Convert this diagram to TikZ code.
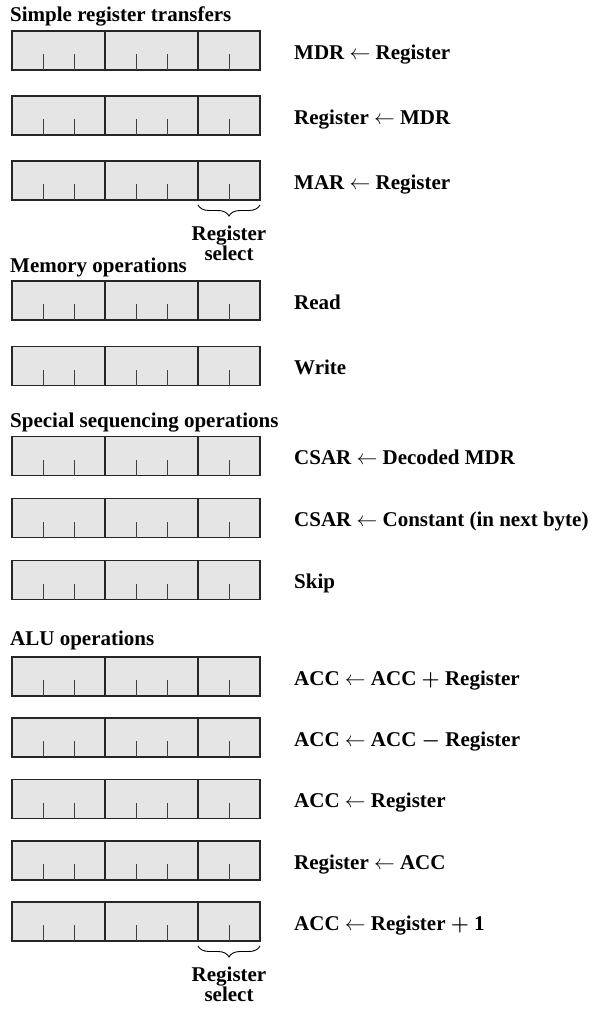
\documentclass[tikz,border=0pt]{standalone}
\usepackage{fontspec}
\setmainfont{Liberation Serif}
\usetikzlibrary{positioning,calc,decorations.pathreplacing}

\newcommand{\opplus}{{\boldmath$+$}}
\newcommand{\opminus}{{\boldmath$-$}}

\begin{document}
\begin{tikzpicture}[
  x=1pt, y=1pt,
  font=\fontsize{21}{20}\selectfont\bfseries,
  field/.style={draw=black!85, fill=black!10, line width=1.3pt, minimum height=39pt, inner sep=0pt, outer sep=0pt, anchor=west},
  wide/.style={field, minimum width=93pt},
  narrow/.style={field, minimum width=62pt},
  tick/.style={black!75, line width=1pt},
  op/.style={anchor=base west, inner sep=0pt},
  heading/.style={anchor=base west, inner sep=0pt},
  regsel/.style={anchor=north, align=center, inner sep=0pt},
  brace/.style={decorate, decoration={brace, mirror, amplitude=11pt}, line width=0.9pt},
]
  \useasboundingbox (0,0) rectangle (595,-1009);

  % group headings
  \node[heading] (simple) at (10,-21) {Simple register transfers};
  \node[heading] (memory) at (10,-272) {Memory operations};
  \node[heading] (special) at (10,-427) {Special sequencing operations};
  \node[heading] (alu) at (10,-645) {ALU operations};

  % one microinstruction per row: three fields and its operation
  \foreach \n/\y/\t in {
      1/50.5/{MDR $\leftarrow$ Register},
      2/115.5/{Register $\leftarrow$ MDR},
      3/180.5/{MAR $\leftarrow$ Register},
      4/300.5/{Read},
      5/366/{Write},
      6/456/{CSAR $\leftarrow$ Decoded MDR},
      7/518/{CSAR $\leftarrow$ Constant (in next byte)},
      8/580/{Skip},
      9/676.5/{ACC $\leftarrow$ ACC \opplus{} Register},
      10/737.5/{ACC $\leftarrow$ ACC \opminus{} Register},
      11/799/{ACC $\leftarrow$ Register},
      12/860.5/{Register $\leftarrow$ ACC},
      13/921.5/{ACC $\leftarrow$ Register \opplus{} 1}} {
    \node[wide] (fa\n) at (12,-\y) {};
    \node[wide, right=0pt of fa\n] (fb\n) {};
    \node[narrow, right=0pt of fb\n] (fc\n) {};
    \foreach \k in {1,2} {
      \draw[tick] ($(fa\n.south west)+(31*\k,0)$) -- ++(0,16);
      \draw[tick] ($(fb\n.south west)+(31*\k,0)$) -- ++(0,16);
    }
    \draw[tick] ($(fc\n.south west)+(31,0)$) -- ++(0,16);
    \node[op] (op\n) at (294,-\y-8.5) {\t};
  }

  % register select field
  \foreach \n in {3,13} {
    \draw[brace] ($(fc\n.south west)+(0,-5)$) -- ($(fc\n.south east)+(0,-5)$);
    \node[regsel] (sel\n) at ($(fc\n.south)+(0,-26)$) {Register\\select};
  }
\end{tikzpicture}
\end{document}
